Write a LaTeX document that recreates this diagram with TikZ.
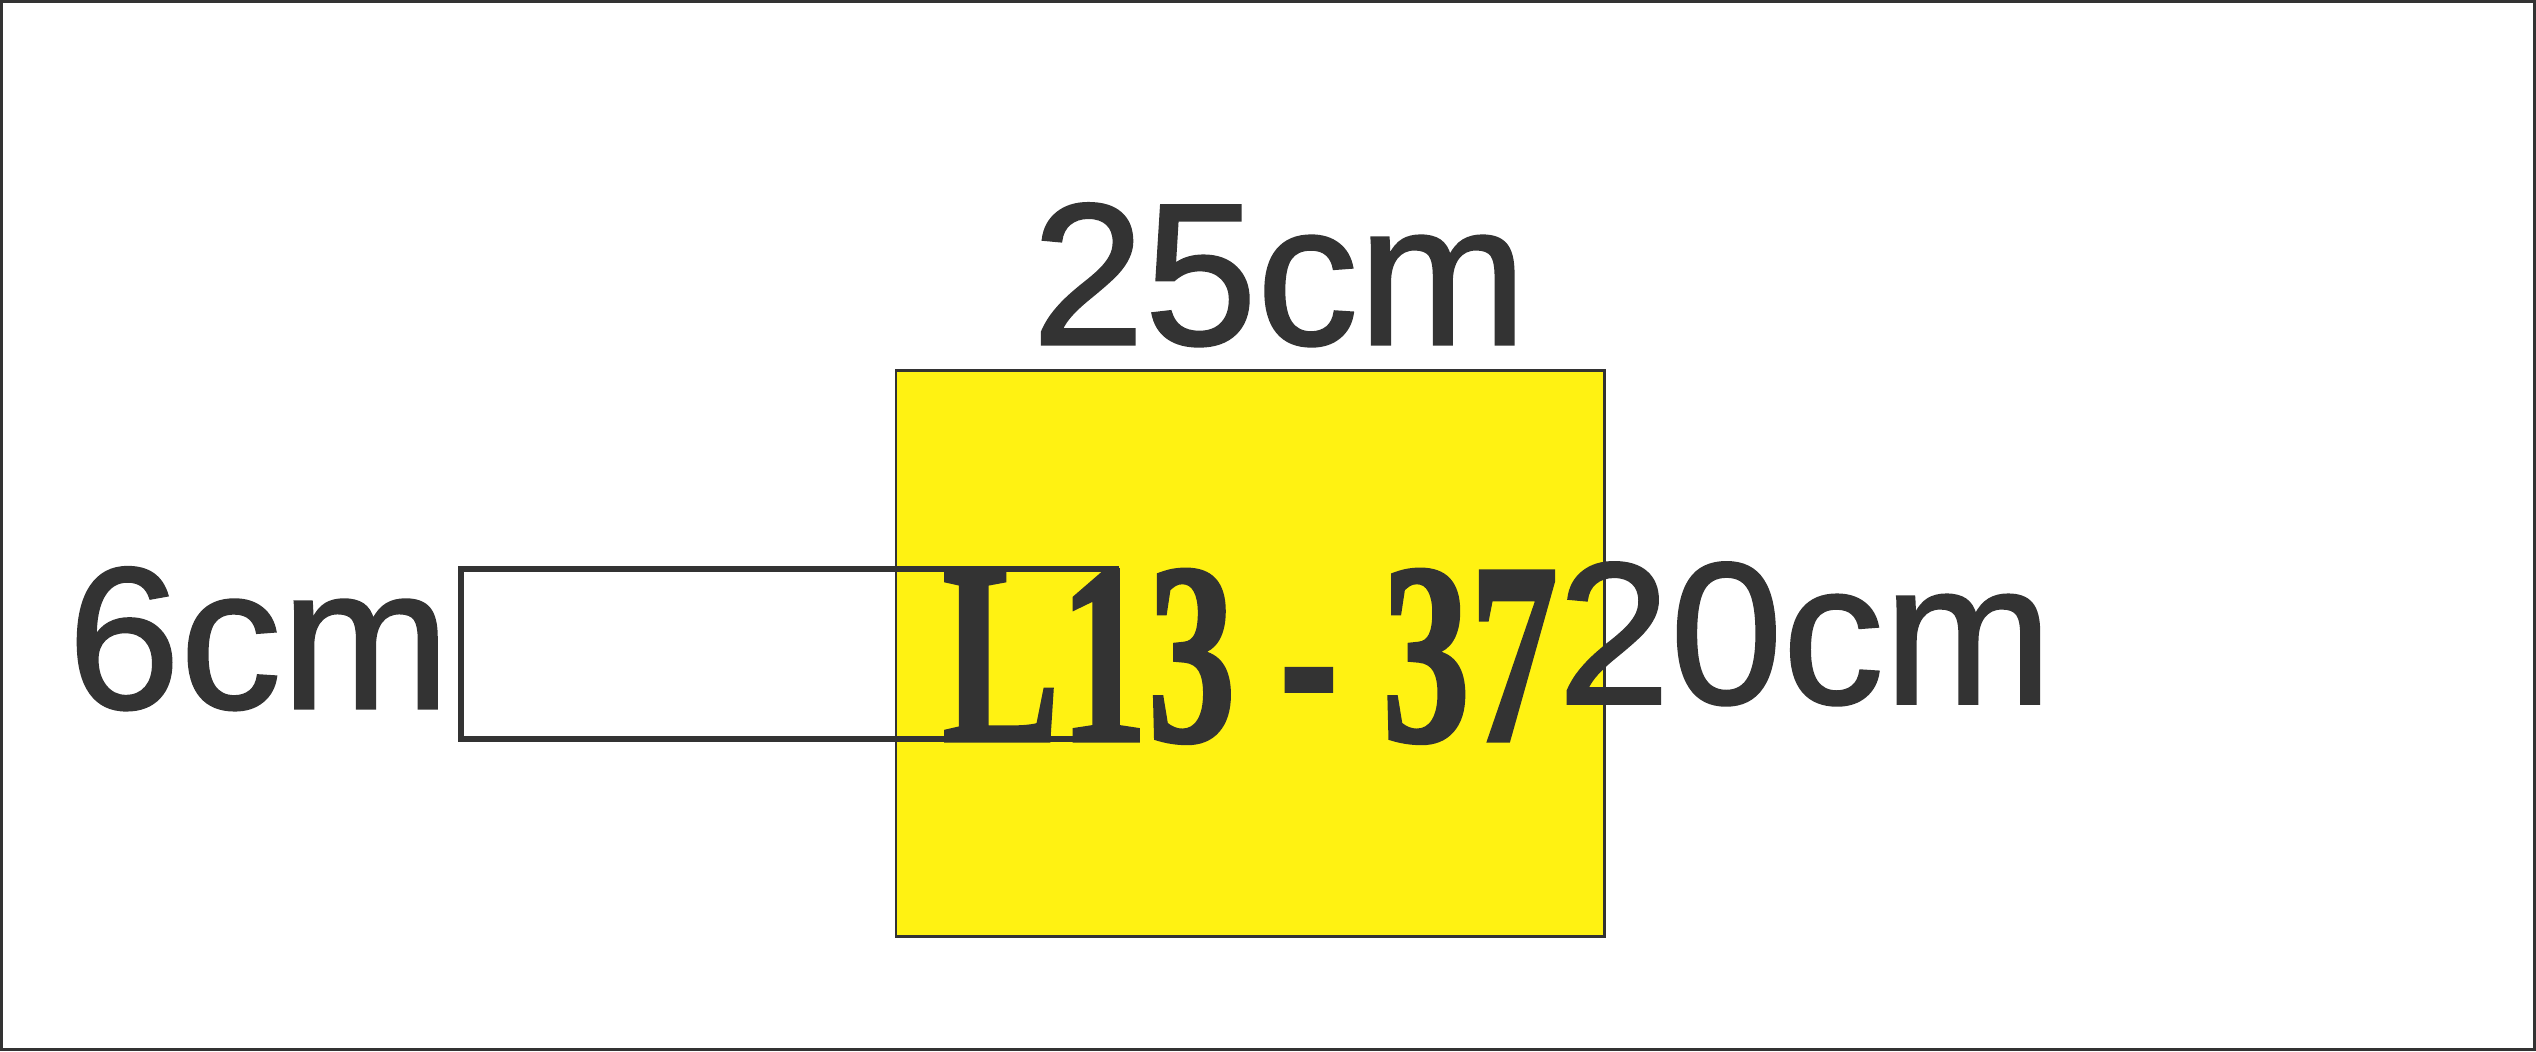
\documentclass[tikz,border=0pt]{standalone}
\usepackage{fontspec}
\setmainfont{Liberation Sans}
\newfontfamily\dimfont[FakeBold=1.2]{Liberation Sans}
\newfontfamily\platefont[FakeBold=1.5]{Liberation Serif Bold}
\usetikzlibrary{positioning}
\definecolor{signyellow}{RGB}{255,242,18}
\definecolor{inkgray}{RGB}{51,51,51}

\begin{document}
\begin{tikzpicture}
  \useasboundingbox (0,0) rectangle (15.68,6.5);
  \tikzset{SizeStyle/.style  = {anchor         = base,
                                text           = inkgray,
                                inner sep      = 0pt,
                                font           = \dimfont\fontsize{35.6}{40}\selectfont}}
  \tikzset{PlateStyle/.style = {anchor         = base,
                                text           = inkgray,
                                inner sep      = 0pt,
                                font           = \platefont\fontsize{45.5}{50}\selectfont}}
  \tikzset{FrameStyle/.style = {draw           = inkgray,
                                line width     = 0.5pt}}
     % outer frame
     \draw[FrameStyle](0.01,0.01) rectangle (15.67,6.49);
     % sign board
     \fill[signyellow] (5.54,0.71) rectangle (9.92,4.21);
     \draw[FrameStyle] (5.54,0.71) rectangle (9.92,4.21);
     % strip
     \draw[FrameStyle,line width = 1pt] (2.85,1.93) rectangle (6.90,2.98);

     \node[PlateStyle] (plate) at (7.73,1.92) {\scalebox{0.68}[1]{L13 - 37}};
     \node[SizeStyle]  (width) at (7.91,4.37) {25cm};
     \node[SizeStyle]  (strip) at (1.60,2.12) {6cm};
     \node[SizeStyle]  (height) at (11.16,2.15) {20cm};
\end{tikzpicture}
\end{document}
